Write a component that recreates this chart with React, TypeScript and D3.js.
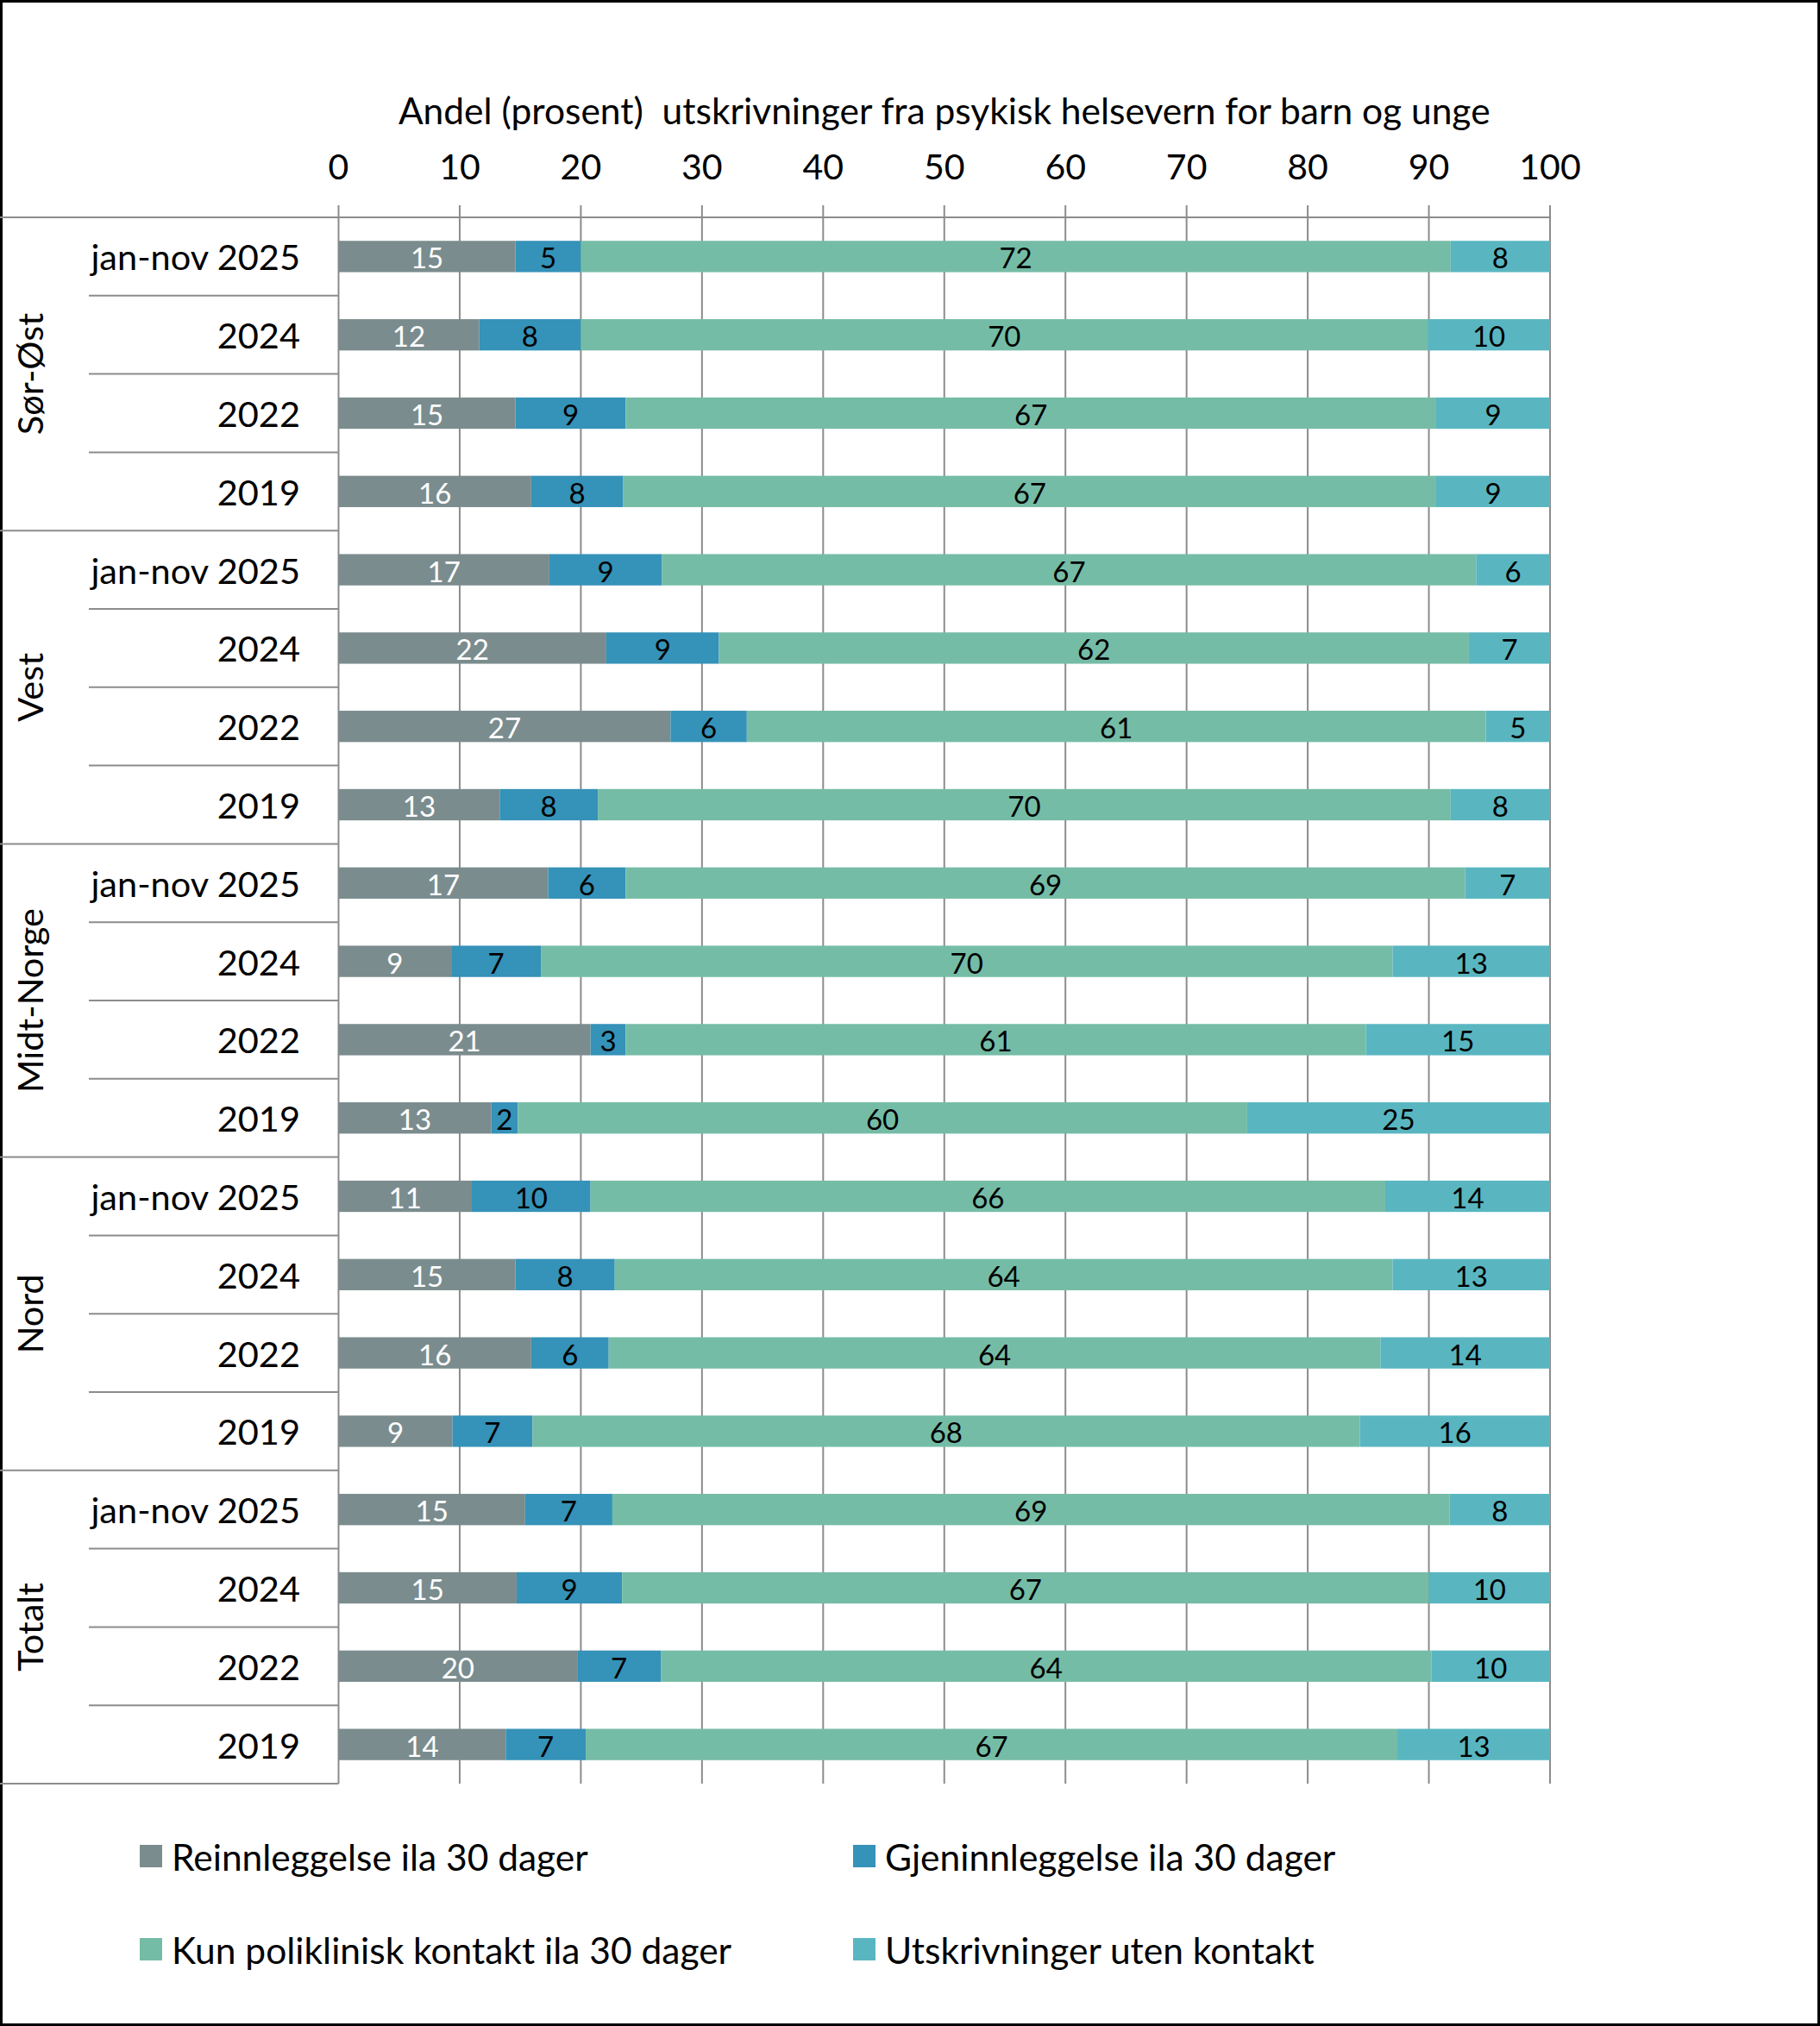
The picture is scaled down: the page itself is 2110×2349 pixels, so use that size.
import React from "react";
import * as d3 from "d3";

const groups = ["Sør-Øst", "Vest", "Midt-Norge", "Nord", "Totalt"];
const periods = ["jan-nov 2025", "2024", "2022", "2019"];
const seriesNames = [
  "Reinnleggelse ila 30 dager",
  "Gjeninnleggelse ila 30 dager",
  "Kun poliklinisk kontakt ila 30 dager",
  "Utskrivninger uten kontakt",
];
const seriesColors = ["#7b8c8e", "#3592b8", "#75bca6", "#59b6c1"];
const labelColors = ["#ffffff", "#000000", "#000000", "#000000"];

// values per row (group x period), order follows groups then periods
const reinnleggelse = [14.6, 11.6, 14.6, 15.9, 17.4, 22.1, 27.4, 13.3, 17.3, 9.3, 20.8, 12.6, 11.0, 14.6, 15.9, 9.4, 15.4, 14.7, 19.7, 13.8];
const gjeninnleggelse = [5.4, 8.4, 9.1, 7.6, 9.3, 9.3, 6.3, 8.1, 6.4, 7.4, 2.9, 2.2, 9.8, 8.2, 6.4, 6.6, 7.2, 8.7, 6.9, 6.6];
const poliklinisk = [71.8, 69.9, 66.9, 67.1, 67.2, 61.9, 61.0, 70.4, 69.3, 70.3, 61.1, 60.2, 65.6, 64.2, 63.7, 68.3, 69.1, 66.6, 63.6, 67.0];
const utenKontakt = [8.2, 10.1, 9.4, 9.4, 6.1, 6.7, 5.3, 8.2, 7.0, 13.0, 15.2, 25.0, 13.6, 13.0, 14.0, 15.7, 8.3, 10.0, 9.8, 12.6];
const xTicks = [0, 10, 20, 30, 40, 50, 60, 70, 80, 90, 100];
const axisTitle = "Andel (prosent)  utskrivninger fra psykisk helsevern for barn og unge";

const W = 2110;
const H = 2349;
const FONT = "Lato, 'Open Sans', sans-serif";
const GRID = "#8c8c8c";

export default function App() {
  const series = [reinnleggelse, gjeninnleggelse, poliklinisk, utenKontakt];
  const rows = groups.flatMap((g, gi) => periods.map((p, pi) => ({ g, gi, p, pi, idx: gi * periods.length + pi })));
  const tableTop = 252;
  const tableBottom = 2068;
  const x = d3.scaleLinear().domain([0, 100]).range([392.5, 1797]);
  const y = d3
    .scaleBand<number>()
    .domain(rows.map((r) => r.idx))
    .range([tableTop, tableBottom])
    .paddingInner(0.6)
    .paddingOuter(0.3);
  const step = y.step();
  const stackData = rows.map((r) => {
    const o: any = { idx: r.idx };
    series.forEach((s, si) => (o["s" + si] = s[r.idx]));
    return o;
  });
  const stack = d3.stack<any>().keys(series.map((_, si) => "s" + si));
  const stacked = stack(stackData);

  const rowTop = (i: number) => tableTop + i * step;

  return (
    <svg width={W} height={H} style={{ position: "absolute", left: 0, top: 0, background: "#fff" }} fontFamily={FONT}>
      <rect x={1.5} y={1.5} width={W - 3} height={H - 3} fill="#fff" stroke="#000" strokeWidth={3} />
      {/* axis title */}
      <text
        x={(x(0) + x(100)) / 2}
        y={127}
        textAnchor="middle"
        dominantBaseline="central"
        fontSize={42.5}
        fill="#000"
        style={{ whiteSpace: "pre" }}
      >
        {axisTitle}
      </text>
      {/* tick labels */}
      {xTicks.map((t) => (
        <text key={"t" + t} x={x(t)} y={192} textAnchor="middle" dominantBaseline="central" fontSize={41} fill="#000">
          {t}
        </text>
      ))}
      {/* gridlines */}
      {xTicks.map((t) => (
        <line key={"g" + t} x1={x(t)} x2={x(t)} y1={238} y2={tableBottom} stroke={GRID} strokeWidth={2} />
      ))}
      {/* top axis line */}
      <line x1={0} x2={x(100)} y1={tableTop} y2={tableTop} stroke={GRID} strokeWidth={2} />
      {/* bottom table line */}
      <line x1={0} x2={x(0)} y1={tableBottom} y2={tableBottom} stroke={GRID} strokeWidth={2} />
      {/* dividers */}
      {rows.map((r) =>
        r.idx === 0 ? null : (
          <line
            key={"d" + r.idx}
            x1={r.pi === 0 ? 0 : 103}
            x2={x(0)}
            y1={rowTop(r.idx)}
            y2={rowTop(r.idx)}
            stroke={GRID}
            strokeWidth={2}
          />
        )
      )}
      {/* bars */}
      {stacked.map((layer, si) =>
        layer.map((d, i) => (
          <rect
            key={"b" + si + "-" + i}
            x={x(d[0])}
            y={y(rows[i].idx)!}
            width={x(d[1]) - x(d[0])}
            height={y.bandwidth()}
            fill={seriesColors[si]}
          />
        ))
      )}
      {/* data labels */}
      {stacked.map((layer, si) =>
        layer.map((d, i) => (
          <text
            key={"l" + si + "-" + i}
            x={(x(d[0]) + x(d[1])) / 2}
            y={y(rows[i].idx)! + y.bandwidth() / 2 + 1}
            textAnchor="middle"
            dominantBaseline="central"
            fontSize={33}
            fill={labelColors[si]}
          >
            {Math.round(d[1] - d[0])}
          </text>
        ))
      )}
      {/* period labels */}
      {rows.map((r) => (
        <text
          key={"p" + r.idx}
          x={348}
          y={y(r.idx)! + y.bandwidth() / 2}
          textAnchor="end"
          dominantBaseline="central"
          fontSize={41.5}
          fill="#000"
        >
          {r.p}
        </text>
      ))}
      {/* group labels */}
      {groups.map((g, gi) => {
        const cy = rowTop(gi * periods.length) + (step * periods.length) / 2;
        return (
          <text
            key={"gr" + gi}
            transform={`translate(34,${cy}) rotate(-90)`}
            textAnchor="middle"
            dominantBaseline="central"
            fontSize={41.5}
            fill="#000"
          >
            {g}
          </text>
        );
      })}
      {/* legend */}
      {seriesNames.map((n, i) => {
        const col = i % 2;
        const row = Math.floor(i / 2);
        const lx = col === 0 ? 162 : 989;
        const ly = row === 0 ? 2152 : 2260;
        return (
          <g key={"lg" + i}>
            <rect x={lx} y={ly - 13} width={26} height={26} fill={seriesColors[i]} />
            <text x={lx + 37} y={ly} dominantBaseline="central" fontSize={42.5} fill="#000">
              {n}
            </text>
          </g>
        );
      })}
    </svg>
  );
}
